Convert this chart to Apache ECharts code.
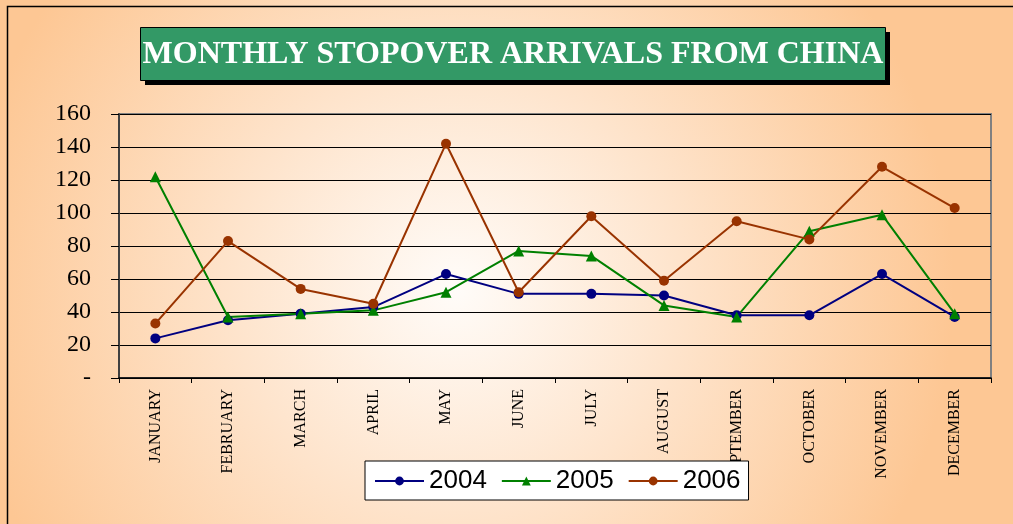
<!DOCTYPE html>
<html>
<head>
<meta charset="utf-8">
<script src="https://cdn.jsdelivr.net/npm/echarts@6/dist/echarts.min.js"></script>
<style>
  html, body { margin: 0; padding: 0; }
  #main { width: 1013px; height: 524px; }
</style>
</head>
<body>
<div id="main"></div>
<script>
var months = ['JANUARY', 'FEBRUARY', 'MARCH', 'APRIL', 'MAY', 'JUNE', 'JULY',
  'AUGUST', 'SEPTEMBER', 'OCTOBER', 'NOVEMBER', 'DECEMBER'];
var data2004 = [24, 35, 39, 43, 63, 51, 51, 50, 38, 38, 63, 37];
var data2005 = [122, 37, 39, 41, 52, 77, 74, 44, 37, 89, 99, 39];
var data2006 = [33, 83, 54, 45, 142, 52, 98, 59, 95, 84, 128, 103];
var titleText = 'MONTHLY STOPOVER ARRIVALS FROM CHINA';

var chart = echarts.init(document.getElementById('main'));

var option = {
  backgroundColor: {
    type: 'radial', x: 0.45, y: 0.55, r: 0.95,
    colorStops: [
      { offset: 0, color: '#fffcf9' },
      { offset: 0.45, color: '#fee4cc' },
      { offset: 1, color: '#fdc794' }
    ]
  },
  animation: false,
  grid: {
    left: 119, right: 22, top: 114, bottom: 146,
    show: true,
    borderColor: '#808080',
    borderWidth: 2,
    backgroundColor: 'transparent'
  },
  legend: {
    top: 461,
    left: 365,
    backgroundColor: '#fff',
    borderColor: '#000',
    borderWidth: 1,
    padding: [7, 8, 6, 9],
    itemGap: 14,
    itemWidth: 49,
    itemHeight: 11,
    textStyle: { fontFamily: 'Liberation Sans', fontSize: 26, color: '#000' },
    data: ['2004', '2005', '2006']
  },
  xAxis: {
    type: 'category',
    data: months,
    boundaryGap: true,
    axisLine: { lineStyle: { color: '#000', width: 1.5 } },
    axisTick: { show: true, length: 5, lineStyle: { color: '#000' } },
    axisLabel: {
      rotate: 90,
      interval: 0,
      margin: 11,
      fontFamily: 'Liberation Serif',
      fontSize: 16,
      color: '#000'
    }
  },
  yAxis: {
    type: 'value',
    min: 0,
    max: 160,
    interval: 20,
    axisLine: { show: true, lineStyle: { color: '#404040', width: 2 } },
    axisTick: { show: true, length: 8, lineStyle: { color: '#000' } },
    splitLine: { lineStyle: { color: '#000', width: 1 } },
    axisLabel: {
      margin: 28,
      fontFamily: 'Liberation Serif',
      fontSize: 24,
      color: '#000',
      formatter: function (v) { return v === 0 ? '-' : v; }
    }
  },
  series: [
    {
      name: '2004', type: 'line', data: data2004,
      symbol: 'circle', symbolSize: 10,
      itemStyle: { color: '#000080' },
      lineStyle: { color: '#000080', width: 2 }
    },
    {
      name: '2005', type: 'line', data: data2005,
      symbol: 'triangle', symbolSize: 11,
      itemStyle: { color: '#008000' },
      lineStyle: { color: '#008000', width: 2 }
    },
    {
      name: '2006', type: 'line', data: data2006,
      symbol: 'circle', symbolSize: 10,
      itemStyle: { color: '#993300' },
      lineStyle: { color: '#993300', width: 2 }
    }
  ],
  graphic: [
    // title box with its black drop shadow
    {
      type: 'rect', silent: true, z: 50,
      shape: { x: 145, y: 32, width: 745, height: 53 },
      style: { fill: '#000' }
    },
    {
      type: 'rect', silent: true, z: 51,
      shape: { x: 140.5, y: 27.5, width: 745, height: 53 },
      style: { fill: '#339966', stroke: '#000', lineWidth: 1 }
    },
    {
      type: 'text', silent: true, z: 52,
      x: 513, y: 55,
      style: {
        text: titleText,
        fill: '#fff',
        font: 'bold 32px "Liberation Serif"',
        align: 'center',
        verticalAlign: 'middle'
      }
    },
    {
      type: 'rect', silent: true, z: 100,
      shape: { x: 7.5, y: 6.5, width: 1100, height: 600 },
      style: { fill: 'none', stroke: '#000', lineWidth: 1.5 }
    }
  ]
};

chart.setOption(option);
</script>
</body>
</html>
